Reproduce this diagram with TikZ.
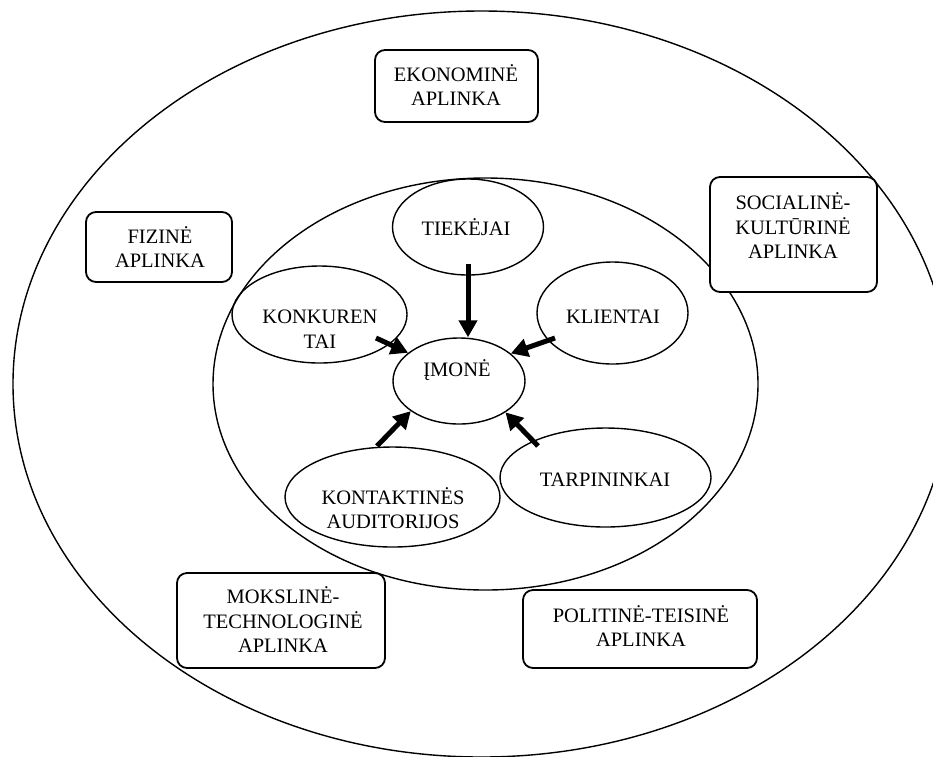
\documentclass[tikz,border=0pt]{standalone}
\usepackage{fontspec}
\setmainfont{Liberation Serif}
\usetikzlibrary{shapes.geometric,arrows.meta}

\begin{document}
\begin{tikzpicture}[x=1pt,y=-1pt,
  ring/.style={ellipse, draw, line width=1.4pt, inner sep=0pt},
  bubble/.style={ellipse, draw, line width=1.4pt, inner sep=0pt},
  frame/.style={draw, fill=white, rounded corners=10pt, line width=1.8pt, inner sep=0pt},
  lbl/.style={font=\fontsize{20.5}{24.5}\selectfont, align=center, inner sep=0pt},
  push/.style={-{Triangle[length=17pt,width=18pt]}, line width=5pt},
]
\useasboundingbox (0,0) rectangle (933,756);

% environment rings
\node[ring, minimum width=937pt, minimum height=746pt] (outer) at (481.5,384) {};
\node[ring, minimum width=545pt, minimum height=412pt] (inner) at (485.5,384) {};

% micro-environment
\node[bubble, minimum width=151pt, minimum height=96pt] (tiek) at (468,227) {};
\node[lbl] (tiekT) at (466,227) {TIEKĖJAI};

\node[bubble, minimum width=175pt, minimum height=97pt] (konk) at (319.5,314.5) {};
\node[lbl] (konkT) at (320,329) {KONKUREN\\TAI};

\node[bubble, minimum width=151pt, minimum height=102pt] (klient) at (612.5,313) {};
\node[lbl] (klientT) at (613,317) {KLIENTAI};

\node[bubble, minimum width=132pt, minimum height=86pt] (imone) at (459,381) {};
\node[lbl] (imoneT) at (457,370) {ĮMONĖ};

\node[bubble, minimum width=215pt, minimum height=100pt] (kont) at (392.5,497) {};
\node[lbl] (kontT) at (393,508) {KONTAKTINĖS\\AUDITORIJOS};

\node[bubble, minimum width=211pt, minimum height=99pt] (tarp) at (605.5,477.5) {};
\node[lbl] (tarpT) at (605,480) {TARPININKAI};

% arrow tails
\coordinate (tiekTail) at (468,264);
\coordinate (konkTail) at (376,338);
\coordinate (klientTail) at (555,338);
\coordinate (kontTail) at (377,446);
\coordinate (tarpTail) at (538,446);

\draw[push] (tiekTail) -- (tiekTail |- imone.north);
\draw[push] (konkTail) -- (imone.151);
\draw[push] (klientTail) -- (imone.28);
\draw[push] (kontTail) -- (imone.212);
\draw[push] (tarpTail) -- (imone.326);

% macro-environment boxes
\node[frame, minimum width=163pt, minimum height=72pt] (eko) at (456.5,86) {};
\node[lbl] (ekoT) at (456,85) {EKONOMINĖ\\APLINKA};

\node[frame, minimum width=167pt, minimum height=115pt] (soc) at (793.5,234.5) {};
\node[lbl] (socT) at (793,226) {SOCIALINĖ-\\KULTŪRINĖ\\APLINKA};

\node[frame, minimum width=146pt, minimum height=70pt] (fiz) at (159,247) {};
\node[lbl] (fizT) at (160,247) {FIZINĖ\\APLINKA};

\node[frame, minimum width=208pt, minimum height=95pt] (mok) at (281,620.5) {};
\node[lbl] (mokT) at (283,620) {MOKSLINĖ-\\TECHNOLOGINĖ\\APLINKA};

\node[frame, minimum width=234pt, minimum height=78pt] (pol) at (640,629) {};
\node[lbl] (polT) at (641,626) {POLITINĖ-TEISINĖ\\APLINKA};
\end{tikzpicture}
\end{document}
